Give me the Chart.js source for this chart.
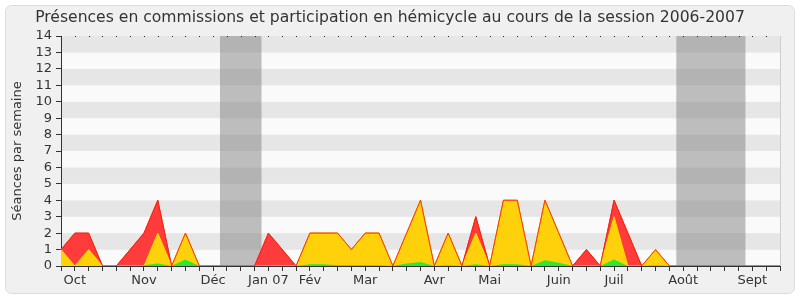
<!DOCTYPE html>
<html>
<head>
<meta charset="utf-8">
<script src="https://cdn.jsdelivr.net/npm/chart.js@4/dist/chart.umd.min.js"></script>
<style>
  html, body { margin: 0; padding: 0; background: #fff; }
</style>
</head>
<body>
<canvas id="chart" width="800" height="300"></canvas>
<script>
// Weekly values, session 2006-2007 (53 weeks)
const commissions = [1, 2, 2, 0, 0, 1, 2, 4, 0, 2, 0, 0, 0, 0, 0, 2, 1, 0, 2, 2, 2, 1, 2, 2, 0, 2,
  4, 0, 2, 0, 3, 0, 4, 4, 0, 4, 2, 0, 1, 0, 4, 2, 0, 1, 0, 0, 0, 0, 0, 0, 0, 0, 0];
const hemicycle = [1, 0, 1, 0, 0, 0, 0, 2, 0, 2, 0, 0, 0, 0, 0, 0, 0, 0, 2, 2, 2, 1, 2, 2, 0, 2,
  4, 0, 2, 0, 2, 0, 4, 4, 0, 4, 2, 0, 0, 0, 3, 0, 0, 1, 0, 0, 0, 0, 0, 0, 0, 0, 0];
const interventions = [0, 0, 0, 0, 0, 0, 0.05, 0.15, 0, 0.4, 0, 0, 0, 0, 0, 0, 0, 0, 0.1, 0.1, 0.05, 0.05, 0.05, 0.05, 0, 0.15,
  0.25, 0, 0.05, 0, 0.1, 0, 0.1, 0.1, 0, 0.35, 0.2, 0, 0, 0, 0.4, 0, 0, 0.05, 0, 0, 0, 0, 0, 0, 0, 0, 0];

// Month labels and the week they sit on
const monthNames = ['Oct', 'Nov', 'Déc', 'Jan 07', 'Fév', 'Mar', 'Avr', 'Mai', 'Juin', 'Juil', 'Août', 'Sept'];
const monthWeeks = [1, 6, 11, 15, 18, 22, 27, 31, 36, 40, 45, 50];

// Holiday periods (in weeks)
const holidays = [[11.5, 14.5], [44.5, 49.5]];

const weekLabels = commissions.map(() => '');
monthWeeks.forEach((w, i) => { weekLabels[w] = monthNames[i]; });

const FONT = 'DejaVu Sans';

// Background: frame, stripes, holiday bands
const backdrop = {
  id: 'backdrop',
  beforeDraw(chart) {
    const ctx = chart.ctx;
    const area = chart.chartArea;
    const x = chart.scales.x;
    const y = chart.scales.y;
    ctx.save();
    ctx.fillStyle = '#ffffff';
    ctx.fillRect(0, 0, chart.width, chart.height);
    ctx.beginPath();
    ctx.roundRect(5.5, 5.5, 789, 288, 6);
    ctx.fillStyle = '#f0f0f0';
    ctx.fill();
    ctx.strokeStyle = '#dcdcdc';
    ctx.lineWidth = 1;
    ctx.stroke();

    for (let v = 0; v < 14; v++) {
      const y0 = y.getPixelForValue(v);
      const y1 = y.getPixelForValue(v + 1);
      ctx.fillStyle = v % 2 === 0 ? '#fafafa' : '#e6e6e6';
      ctx.fillRect(area.left, y1, area.right - area.left, y0 - y1);
    }
    ctx.fillStyle = 'rgba(128,128,128,0.5)';
    holidays.forEach(h => {
      const a = x.getPixelForValue(h[0]);
      const b = x.getPixelForValue(h[1]);
      ctx.fillRect(a, area.top, b - a, area.bottom - area.top);
    });
    ctx.restore();
  },
  afterDraw(chart) {
    const ctx = chart.ctx;
    const area = chart.chartArea;
    const x = chart.scales.x;
    ctx.save();
    ctx.fillStyle = '#222';
    for (let i = 0; i < weekLabels.length; i++) {
      ctx.fillRect(Math.round(x.getPixelForValue(i)), area.top, 1, 1);
    }
    ctx.fillStyle = '#cfcfcf';
    ctx.fillRect(Math.round(area.right), area.top, 1, area.bottom - area.top);
    ctx.restore();
  }
};

new Chart(document.getElementById('chart'), {
  type: 'line',
  data: {
    labels: weekLabels,
    datasets: [
      { label: 'contour', data: commissions, fill: false, borderColor: 'rgba(245,40,10,0.9)', borderWidth: 1 },
      { label: 'Interventions', data: interventions, fill: 'origin', backgroundColor: '#2ee82e', borderWidth: 0 },
      { label: 'Hémicycle', data: hemicycle, fill: 'origin', backgroundColor: '#ffd10a', borderColor: '#ffdc00', borderWidth: 1 },
      { label: 'Commissions', data: commissions, fill: 'origin', backgroundColor: '#ff3b3b', borderColor: '#ff2020', borderWidth: 1 }
    ]
  },
  options: {
    responsive: false,
    animation: false,
    devicePixelRatio: 1,
    layout: { padding: { left: 0, right: 20, top: 0, bottom: 0 } },
    elements: { line: { tension: 0 }, point: { radius: 0 } },
    plugins: {
      legend: { display: false },
      tooltip: { enabled: false },
      title: {
        display: true,
        text: 'Présences en commissions et participation en hémicycle au cours de la session 2006-2007',
        color: '#333',
        font: { family: FONT, size: 15.6, weight: 'normal' },
        padding: { top: 9, bottom: 8.3 }
      }
    },
    scales: {
      x: {
        type: 'category',
        offset: false,
        z: 1,
        grid: { drawOnChartArea: false, tickLength: 5, color: '#333' },
        border: { color: '#333' },
        ticks: { autoSkip: false, maxRotation: 0, minRotation: 0, color: '#333', padding: 2,
                 font: { family: FONT, size: 13 } },
        afterFit(s) { s.height = 34; }
      },
      y: {
        min: 0,
        max: 14,
        grid: { drawOnChartArea: false, tickLength: 5, color: '#333' },
        border: { color: '#333' },
        ticks: { stepSize: 1, autoSkip: false, color: '#333', padding: 4, font: { family: FONT, size: 13 } },
        title: { display: true, text: 'Séances par semaine', color: '#333',
                 font: { family: FONT, size: 13 }, padding: { top: 10, bottom: 0 } },
        afterFit(s) { s.width = 61; }
      }
    }
  },
  plugins: [backdrop]
});
</script>
</body>
</html>
